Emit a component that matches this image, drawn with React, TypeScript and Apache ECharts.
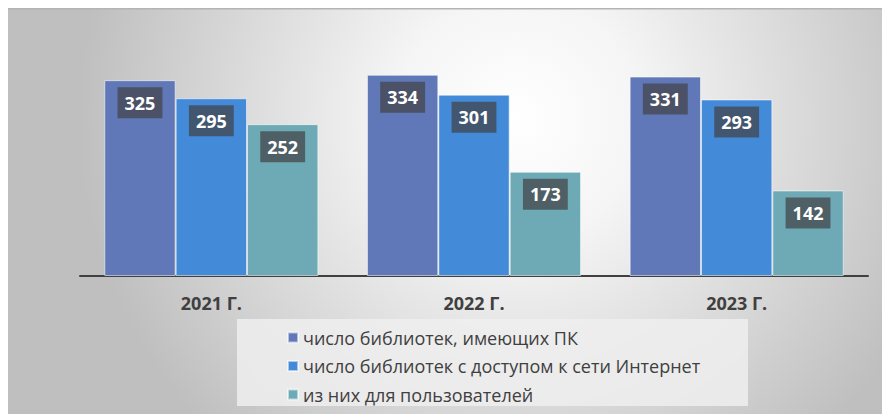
import React, { useEffect, useRef } from "react";
import * as echarts from "echarts";

const categories = ["2021 Г.", "2022 Г.", "2023 Г."];
const seriesNames = [
  "число библиотек, имеющих ПК",
  "число библиотек с доступом к сети Интернет",
  "из них для пользователей",
];
const withPC = [325, 334, 331];
const withInternet = [295, 301, 293];
const forUsers = [252, 173, 142];
const colors = ["#6078b8", "#438bd8", "#6daab5"];

export default function App() {
  const ref = useRef<HTMLDivElement>(null);
  useEffect(() => {
    if (!ref.current) return;
    const chart = echarts.init(ref.current, undefined, { renderer: "svg" });
    const label = {
      show: true,
      position: "insideTop",
      distance: 7,
      color: "#ffffff",
      fontSize: 18,
      fontWeight: "bold",
      fontFamily: "Open Sans",
      lineHeight: 21,
      padding: [5, 7],
      backgroundColor: "rgba(66,66,70,0.72)",
    };
    const mk = (name: string, data: number[], color: string) => ({
      name,
      type: "bar",
      data,
      barGap: "0%",
      barCategoryGap: "18.5%",
      itemStyle: { color, borderColor: "rgba(255,255,255,0.55)", borderWidth: 1 },
      label,
    });
    chart.setOption({
      animation: false,
      graphic: [
        {
          type: "rect",
          z: -10,
          silent: true,
          shape: { x: 0, y: 0, width: 882, height: 406 },
          style: {
            fill: new echarts.graphic.RadialGradient(510, 110, 440, [
              { offset: 0, color: "#ffffff" },
              { offset: 0.28, color: "#f5f5f5" },
              { offset: 1, color: "#bfbfbf" },
            ], true),
          },
        },
        {
          type: "line",
          z: -9,
          silent: true,
          shape: { x1: 0, y1: 0.5, x2: 882, y2: 0.5 },
          style: { stroke: "#b4b4b4", lineWidth: 2 },
        },
        {
          type: "rect",
          z: -8,
          silent: true,
          shape: { x: 229, y: 311, width: 511, height: 87 },
          style: { fill: "rgba(238,238,238,0.85)" },
        },
      ],
      grid: { left: 72, width: 788, top: 27, height: 241 },
      xAxis: {
        type: "category",
        data: categories,
        axisLine: { lineStyle: { color: "#404040", width: 2 } },
        axisTick: { show: false },
        axisLabel: {
          color: "#404040",
          fontSize: 18,
          fontWeight: "bold",
          fontFamily: "Open Sans",
          margin: 18,
        },
      },
      yAxis: {
        type: "value",
        min: 0,
        max: 400,
        show: false,
        splitLine: { show: false },
      },
      legend: {
        orient: "vertical",
        left: 274,
        top: 313.5,
        itemWidth: 10,
        itemHeight: 10,
        itemGap: 6.5,
        icon: "rect",
        textStyle: {
          color: "#404040",
          fontSize: 18,
          fontFamily: "Open Sans",
          lineHeight: 22,
        },
        data: seriesNames,
      },
      series: [
        mk(seriesNames[0], withPC, colors[0]),
        mk(seriesNames[1], withInternet, colors[1]),
        mk(seriesNames[2], forUsers, colors[2]),
      ],
    });
    return () => chart.dispose();
  }, []);
  return <div ref={ref} style={{ width: 882, height: 406 }} />;
}
